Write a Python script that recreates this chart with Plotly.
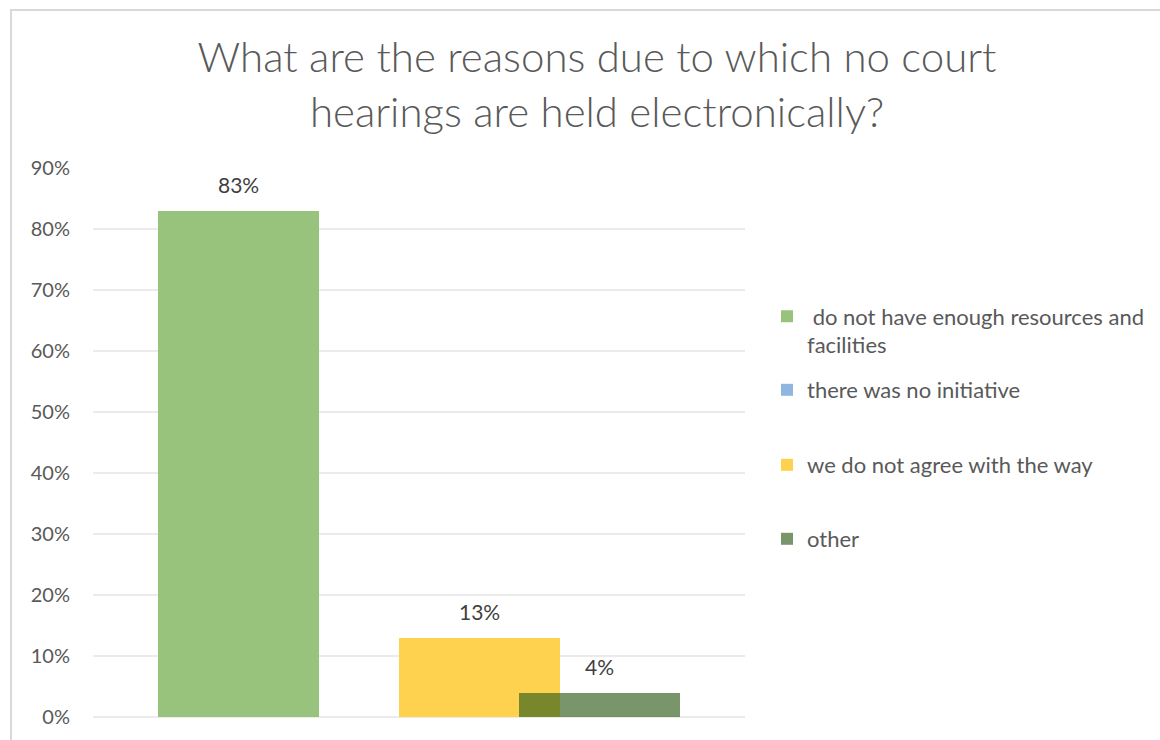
import plotly.graph_objects as go

# Survey answers and their shares
categories = [
    "do not have enough resources and facilities",
    "there was no initiative",
    "we do not agree with the way",
    "other",
]
legend_labels = [
    " do not have enough resources and<br>facilities",
    "there was no initiative",
    "we do not agree with the way",
    "other",
]
shares = [0.83, 0.0, 0.13, 0.04]
bar_colors = [
    "rgba(152,195,124,1)",
    "rgba(142,182,224,1)",
    "rgba(254,210,78,1)",
    "rgba(48,94,26,0.65)",
]
y_ticks = [0.0, 0.1, 0.2, 0.3, 0.4, 0.5, 0.6, 0.7, 0.8, 0.9]

TITLE = "What are the reasons due to which no court<br>hearings are held electronically?"

# Page geometry (pixels)
W, H = 1160, 740
PL, PR, PT, PB = 93, 745, 168, 717
plot_w = PR - PL
plot_h = PB - PT

# Clustered bars with overlap, one slot per series
slot_px = 120.5
bar_px = 161
slot = slot_px / plot_w
bar_w = bar_px / plot_w
n = len(shares)

fig = go.Figure()
for i, (name, lab, v, c) in enumerate(zip(categories, legend_labels, shares, bar_colors)):
    xc = (i - (n - 1) / 2) * slot
    fig.add_trace(go.Bar(
        x=[xc], y=[v], width=[bar_w], name=lab,
        marker=dict(color=c, line=dict(width=0)),
        legend="legend" if i == 0 else f"legend{i + 1}",
        hovertemplate=name + ": %{y:.0%}<extra></extra>",
    ))
    if v > 0:
        fig.add_annotation(
            x=xc, y=v, xref="x", yref="y", text=f"{v:.0%}",
            showarrow=False, yanchor="middle", yshift=26,
            font=dict(family="Lato", size=21, color="#404040"),
        )

# Legend entries spread down the right side
legend_centers_px = [331, 390, 465, 539]
legend_left_px = 767
legend_font = dict(family="Lato", size=22, color="#595959")
legend_cfg = {}
for i, cy in enumerate(legend_centers_px):
    key = "legend" if i == 0 else f"legend{i + 1}"
    legend_cfg[key] = dict(
        x=(legend_left_px - PL) / plot_w, xanchor="left",
        y=(PB - cy) / plot_h, yanchor="middle",
        font=legend_font, bgcolor="rgba(0,0,0,0)", borderwidth=0,
        valign="top", itemclick=False, itemdoubleclick=False,
    )

# Light chart-area frame along top and left
fig.add_shape(
    type="rect", xref="paper", yref="paper",
    x0=(11 - PL) / plot_w, x1=(W + 20 - PL) / plot_w,
    y0=(PB - (H + 20)) / plot_h, y1=(PB - 10) / plot_h,
    line=dict(color="#D9D9D9", width=2), fillcolor="rgba(0,0,0,0)", layer="below",
)

fig.update_layout(
    width=W, height=H,
    margin=dict(l=PL, r=W - PR, t=PT, b=H - PB, pad=0, autoexpand=False),
    paper_bgcolor="white", plot_bgcolor="white",
    barmode="overlay", bargap=0,
    showlegend=True,
    title=dict(
        text=TITLE, x=597 / W, xanchor="center", xref="container",
        y=1 - 72 / H, yanchor="middle", yref="container",
        font=dict(family="Lato", size=42, weight=300, color="#595959"),
    ),
    xaxis=dict(range=[-0.5, 0.5], visible=False, fixedrange=True),
    yaxis=dict(
        range=[0, 0.9], tickvals=y_ticks, tickformat=".0%",
        showgrid=True, gridcolor="#EBEBEB", gridwidth=1.5,
        zeroline=True, zerolinecolor="#EBEBEB", zerolinewidth=1.5,
        showline=False, ticks="", ticklabelstandoff=22,
        tickfont=dict(family="Lato", size=20, color="#595959"),
        fixedrange=True,
    ),
    **legend_cfg,
)

fig.write_html("out.html")
